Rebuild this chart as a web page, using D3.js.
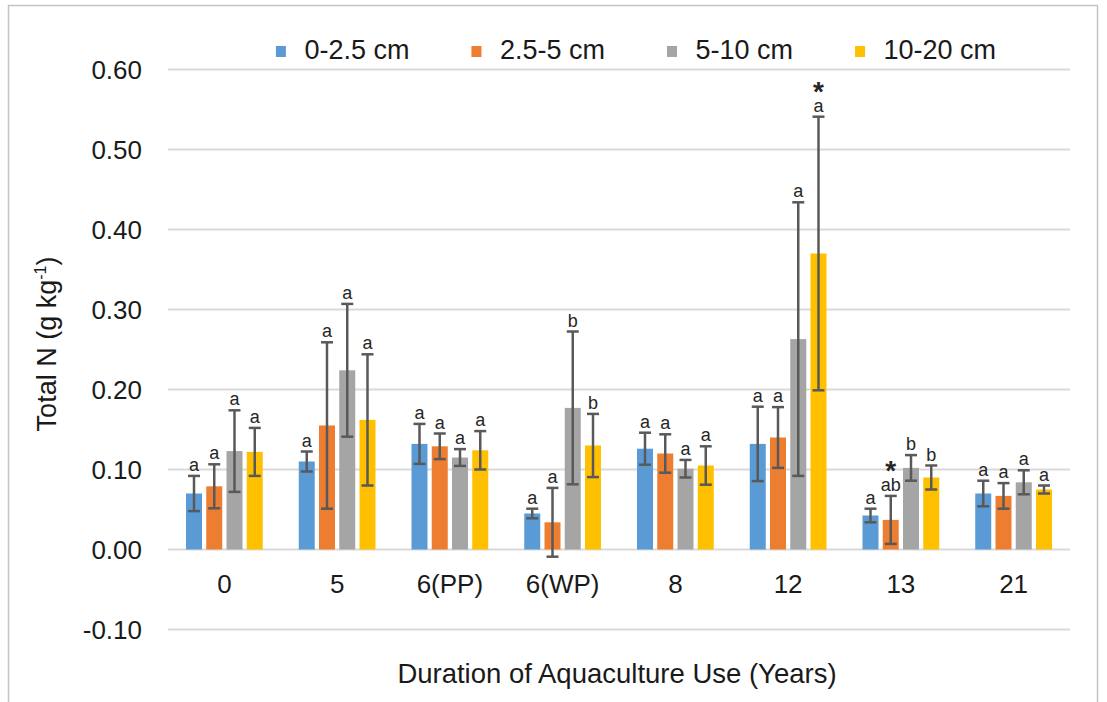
<!DOCTYPE html>
<html>
<head>
<meta charset="utf-8">
<script src="https://cdn.jsdelivr.net/npm/d3@7"></script>
<style>
  html, body { margin: 0; padding: 0; background: #fff; }
  svg { display: block; font-family: "Liberation Sans", Arial, sans-serif; }
</style>
</head>
<body>
<svg id="chart" width="1107" height="702"></svg>
<script>
// ---- Data ----
const categories = ["0", "5", "6(PP)", "6(WP)", "8", "12", "13", "21"];
const seriesNames = ["0-2.5 cm", "2.5-5 cm", "5-10 cm", "10-20 cm"];
const colors = ["#5B9BD5", "#ED7D31", "#A5A5A5", "#FFC000"];

const vals0_25  = [0.070, 0.110, 0.132, 0.045, 0.126, 0.132, 0.0425, 0.070];
const vals25_5  = [0.079, 0.155, 0.129, 0.034, 0.120, 0.140, 0.037, 0.067];
const vals5_10  = [0.123, 0.224, 0.115, 0.177, 0.101, 0.263, 0.102, 0.084];
const vals10_20 = [0.122, 0.162, 0.124, 0.130, 0.105, 0.370, 0.090, 0.075];

const err0_25  = [0.022, 0.0125, 0.025, 0.006, 0.020, 0.0465, 0.0085, 0.016];
const err25_5  = [0.0275, 0.104, 0.016, 0.043, 0.024, 0.038, 0.030, 0.016];
const err5_10  = [0.051, 0.083, 0.0105, 0.0955, 0.011, 0.171, 0.016, 0.015];
const err10_20 = [0.030, 0.082, 0.024, 0.0395, 0.024, 0.171, 0.015, 0.005];

const let0_25  = ["a", "a", "a", "a", "a", "a", "a", "a"];
const let25_5  = ["a", "a", "a", "a", "a", "a", "ab", "a"];
const let5_10  = ["a", "a", "a", "b", "a", "a", "b", "a"];
const let10_20 = ["a", "a", "a", "b", "a", "a", "b", "a"];

// asterisk markers: [category, series]
const asterisks = [["12", "10-20 cm"], ["13", "2.5-5 cm"]];

const yTicks = [-0.10, 0.00, 0.10, 0.20, 0.30, 0.40, 0.50, 0.60];

const allVals = [vals0_25, vals25_5, vals5_10, vals10_20];
const allErrs = [err0_25, err25_5, err5_10, err10_20];
const allLets = [let0_25, let25_5, let5_10, let10_20];

const data = [];
categories.forEach((c, ci) => {
  seriesNames.forEach((s, si) => {
    data.push({cat: c, ser: s, si, v: allVals[si][ci], e: allErrs[si][ci], l: allLets[si][ci],
      star: asterisks.some(a => a[0] === c && a[1] === s)});
  });
});

// ---- Layout ----
const svg = d3.select("#chart");
const plotL = 168, plotR = 1070, plotT = 69.5, plotB = 629.5;

const x0 = d3.scaleBand().domain(categories).range([plotL, plotR]).padding(0);
const groupW = 76.75;
const x1 = d3.scaleBand().domain(seriesNames)
  .range([(x0.bandwidth() - groupW) / 2, (x0.bandwidth() + groupW) / 2])
  .paddingInner(0.21).paddingOuter(0);
const y = d3.scaleLinear().domain([-0.10, 0.60]).range([plotB, plotT]);
const color = d3.scaleOrdinal().domain(seriesNames).range(colors);

// chart border
svg.append("rect").attr("x", 8.5).attr("y", 5.5).attr("width", 1089).attr("height", 720)
  .attr("fill", "none").attr("stroke", "#c4c4c4").attr("stroke-width", 1.5);

// gridlines
svg.append("g").selectAll("line").data(yTicks).join("line")
  .attr("x1", plotL).attr("x2", plotR)
  .attr("y1", d => y(d)).attr("y2", d => y(d))
  .attr("stroke", "#d9d9d9").attr("stroke-width", 2);

// y tick labels
svg.append("g").selectAll("text").data(yTicks).join("text")
  .attr("x", 142).attr("y", d => y(d)).attr("dy", "0.36em")
  .attr("text-anchor", "end").attr("font-size", 26).attr("fill", "#1a1a1a")
  .text(d => d.toFixed(2));

// x tick labels
svg.append("g").selectAll("text").data(categories).join("text")
  .attr("x", d => x0(d) + x0.bandwidth() / 2).attr("y", 593)
  .attr("text-anchor", "middle").attr("font-size", 26).attr("fill", "#1a1a1a")
  .text(d => d);

// bars
const bx = d => x0(d.cat) + x1(d.ser);
svg.append("g").selectAll("rect").data(data).join("rect")
  .attr("x", bx).attr("width", x1.bandwidth())
  .attr("y", d => y(Math.max(0, d.v))).attr("height", d => Math.abs(y(d.v) - y(0)))
  .attr("fill", d => color(d.ser));

// error bars
const eg = svg.append("g").attr("stroke", "#595959").attr("stroke-width", 2.5);
const capW = 12;
data.forEach(d => {
  const cx = bx(d) + x1.bandwidth() / 2;
  eg.append("line").attr("x1", cx).attr("x2", cx).attr("y1", y(d.v + d.e)).attr("y2", y(d.v - d.e));
  eg.append("line").attr("x1", cx - capW / 2).attr("x2", cx + capW / 2).attr("y1", y(d.v + d.e)).attr("y2", y(d.v + d.e));
  eg.append("line").attr("x1", cx - capW / 2).attr("x2", cx + capW / 2).attr("y1", y(d.v - d.e)).attr("y2", y(d.v - d.e));
});

// significance letters (with stacked asterisk where marked)
const lt = svg.append("g").selectAll("text").data(data).join("text")
  .attr("text-anchor", "middle").attr("font-size", 18).attr("fill", "#262626");
lt.each(function(d) {
  const t = d3.select(this);
  const cx = bx(d) + x1.bandwidth() / 2;
  const yTop = y(d.v + d.e);
  if (d.star) {
    t.attr("x", cx).attr("y", yTop - 16);
    t.append("tspan").attr("x", cx).attr("font-size", 28).attr("font-weight", "bold").text("*");
    t.append("tspan").attr("x", cx).attr("dy", 11).text(d.l);
  } else {
    t.attr("x", cx).attr("y", yTop - 5).text(d.l);
  }
});

// legend
const lg = svg.append("g");
const items = seriesNames.map(s => {
  const g = lg.append("g");
  g.append("rect").attr("width", 10).attr("height", 11).attr("y", 46).attr("fill", color(s));
  const t = g.append("text").attr("x", 28.5).attr("y", 59).attr("font-size", 27).attr("fill", "#1a1a1a").text(s);
  return {g, w: t.node().getComputedTextLength()};
});
let total = 0;
items.forEach((it, i) => { total += 28.5 + it.w + (i < items.length - 1 ? 62 : 0); });
let lx = 636 - total / 2;
items.forEach(it => { it.g.attr("transform", `translate(${lx},0)`); lx += 28.5 + it.w + 62; });

// axis titles
svg.append("text").attr("x", 617).attr("y", 683).attr("text-anchor", "middle")
  .attr("font-size", 27.5).attr("fill", "#1a1a1a").text("Duration of Aquaculture Use (Years)");

const yt = svg.append("text").attr("transform", "translate(56,344) rotate(-90)")
  .attr("text-anchor", "middle").attr("font-size", 27).attr("fill", "#1a1a1a");
yt.append("tspan").text("Total N (g kg");
yt.append("tspan").attr("font-size", 16).attr("dy", -10).text("-1");
yt.append("tspan").attr("dy", 10).text(")");
</script>
</body>
</html>
